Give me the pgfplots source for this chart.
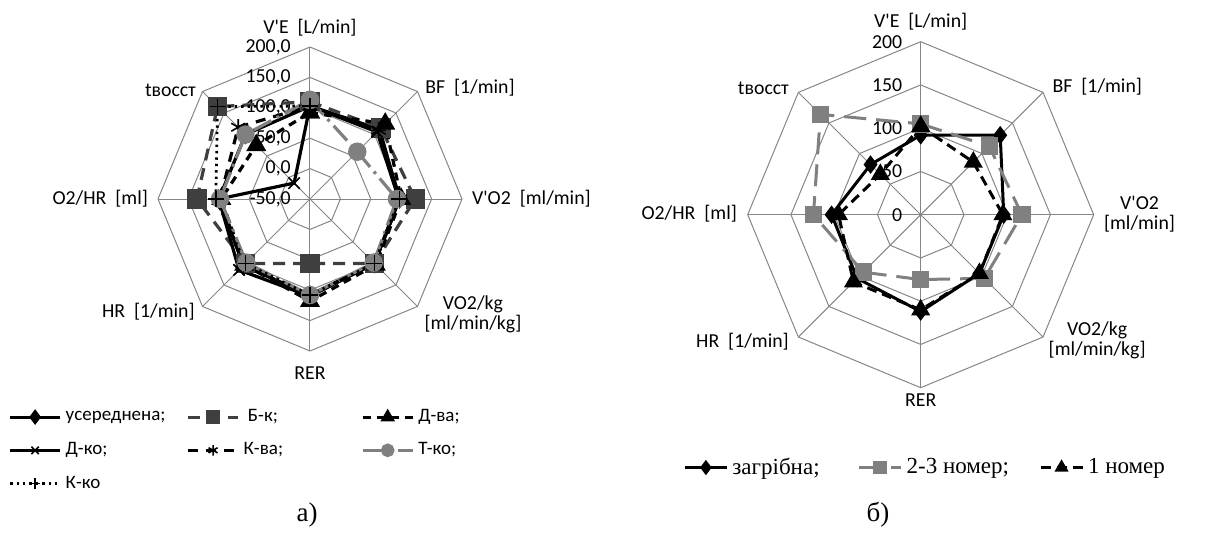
\documentclass[border=0pt]{standalone}
\usepackage{pgfplots}
\pgfplotsset{compat=1.18}
\usepackage{pgfplotstable}
\usepackage{fontspec}
\setmainfont{Carlito}
\newfontfamily\calfont{Carlito}
\newfontfamily\timesfont{Liberation Serif}
\definecolor{gridc}{HTML}{868686}
\definecolor{dkgray}{HTML}{3F3F3F}
\definecolor{mdgray}{HTML}{808080}
\newcommand\lblfont{\calfont\fontsize{9.9}{11}\selectfont}
\newcommand\tickfont{\calfont\fontsize{9.9}{11}\selectfont}

% columns: angle, then values
\pgfplotstableread{
ang avg bk dva dko kva tko kko
90 103 110 92 103 103 113 103
45 112 115 125 106 110 60 109
0 97 123 100 96 98 93 97
-45 100 100 103 100 100 98 100
-90 108 56 118 110 108 108 108
-135 105 100 103 115 105 98 100
-180 100 136 96 100 98 98 105
-225 100 165 75 -13 117 100 165
-270 103 110 92 103 103 113 103
}\lefttab

\pgfplotstableread{
ang zag sec fir
90 92 105 102
45 130 112 86
0 96 117 95
-45 96 104 96
-90 112 75 110
-135 104 94 110
-180 103 124 95
-225 82 164 66
-270 92 105 102
}\righttab

\pgfplotstableread{
ang one
90 1
45 1
0 1
-45 1
-90 1
-135 1
-180 1
-225 1
-270 1
}\octa

\begin{document}
\begin{tikzpicture}
\useasboundingbox (0,0) rectangle (603pt,276.5pt);

% ---------------- left chart ----------------
\begin{axis}[
  at={(155pt,177pt)}, anchor=center,
  x=0.304pt, y=0.304pt,
  xmin=-250, xmax=250, ymin=-250, ymax=250,
  hide axis, clip=false,
  legend columns=3,
  legend cell align=left,
  legend image code/.code={\draw[mark repeat=2,mark phase=2,#1,mark size=2.6pt] plot coordinates {(0pt,0pt)(12.5pt,0pt)(25pt,0pt)};},
  legend style={at={(-0.493,-0.178)}, anchor=north west, draw=none, fill=none, inner sep=0pt,
     font=\calfont\fontsize{9.5}{11}\selectfont, row sep=5pt,
     /tikz/column 2/.style={column sep=8.5pt},
     /tikz/column 4/.style={column sep=37pt}},
]
\pgfplotsinvokeforeach{50,100,150,200,250}{
  \addplot[gridc, line width=0.5pt, forget plot] table[x expr={#1*cos(\thisrow{ang})}, y expr={#1*sin(\thisrow{ang})}] {\octa};
}
\addplot[gridc, line width=0.5pt, forget plot] coordinates {(0,-250)(0,250)};
\addplot[gridc, line width=0.5pt, forget plot] coordinates {(-250,0)(250,0)};
\addplot[gridc, line width=0.5pt, forget plot] coordinates {(-176.78,-176.78)(176.78,176.78)};
\addplot[gridc, line width=0.5pt, forget plot] coordinates {(-176.78,176.78)(176.78,-176.78)};

\node[font=\tickfont, anchor=east, inner sep=0pt] at (axis cs:-31,250) {200,0};
\node[font=\tickfont, anchor=east, inner sep=0pt] at (axis cs:-31,200) {150,0};
\node[font=\tickfont, anchor=east, inner sep=0pt] at (axis cs:-31,150) {100,0};
\node[font=\tickfont, anchor=east, inner sep=0pt] at (axis cs:-31,100) {50,0};
\node[font=\tickfont, anchor=east, inner sep=0pt] at (axis cs:-31,50) {0,0};
\node[font=\tickfont, anchor=east, inner sep=0pt] at (axis cs:-31,0) {-50,0};

\node[font=\lblfont, inner sep=0pt] at (axis cs:0,281) {V'E\ \ [L/min]};
\node[font=\lblfont, anchor=west, inner sep=0pt] at (axis cs:189,183) {BF\ \ [1/min]};
\node[font=\lblfont, anchor=west, inner sep=0pt] at (axis cs:266,0) {V'O2\ \ [ml/min]};
\node[font=\lblfont, align=center, inner sep=0pt] at (axis cs:268,-189) {VO2/kg\\[-1pt][ml/min/kg]};
\node[font=\lblfont, inner sep=0pt] at (axis cs:0,-286) {RER};
\node[font=\lblfont, anchor=east, inner sep=0pt] at (axis cs:-189,-186) {HR\ \ [1/min]};
\node[font=\lblfont, anchor=east, inner sep=0pt] at (axis cs:-266,0) {O2/HR\ \ [ml]};
\node[font=\lblfont, anchor=east, inner sep=0pt] at (axis cs:-187,179) {tвосст};

\addplot[black, line width=1.6pt, mark=diamond*, mark size=3.6pt, mark options={solid}]
  table[x expr={(\thisrow{avg}+50)*cos(\thisrow{ang})}, y expr={(\thisrow{avg}+50)*sin(\thisrow{ang})}] {\lefttab};
\addlegendentry{усереднена;}
\addplot[dkgray, line width=1.6pt, dash pattern=on 6pt off 4pt, mark=square*, mark size=4pt, mark options={solid}]
  table[x expr={(\thisrow{bk}+50)*cos(\thisrow{ang})}, y expr={(\thisrow{bk}+50)*sin(\thisrow{ang})}] {\lefttab};
\addlegendentry{\ Б-к;}
\addplot[black, line width=1.6pt, dash pattern=on 4pt off 3pt, mark=triangle*, mark size=4.2pt, mark options={solid}]
  table[x expr={(\thisrow{dva}+50)*cos(\thisrow{ang})}, y expr={(\thisrow{dva}+50)*sin(\thisrow{ang})}] {\lefttab};
\addlegendentry{Д-ва;}
\addplot[black, line width=1.6pt, mark=x, mark size=4pt, mark options={solid, line width=0.8pt}]
  table[x expr={(\thisrow{dko}+50)*cos(\thisrow{ang})}, y expr={(\thisrow{dko}+50)*sin(\thisrow{ang})}] {\lefttab};
\addlegendentry{Д-ко;}
\addplot[black, line width=1.6pt, dash pattern=on 5pt off 4pt, mark=asterisk, mark size=4pt, mark options={solid, line width=0.8pt}]
  table[x expr={(\thisrow{kva}+50)*cos(\thisrow{ang})}, y expr={(\thisrow{kva}+50)*sin(\thisrow{ang})}] {\lefttab};
\addlegendentry{К-ва;}
\addplot[mdgray, line width=1.6pt, dash pattern=on 10pt off 3pt on 1.5pt off 3pt, mark=*, mark size=3.8pt, mark options={solid}]
  table[x expr={(\thisrow{tko}+50)*cos(\thisrow{ang})}, y expr={(\thisrow{tko}+50)*sin(\thisrow{ang})}] {\lefttab};
\addlegendentry{Т-ко;}
\addplot[black, line width=1.4pt, dash pattern=on 1.2pt off 2pt, mark=+, mark size=4pt, mark options={solid, line width=0.8pt}]
  table[x expr={(\thisrow{kko}+50)*cos(\thisrow{ang})}, y expr={(\thisrow{kko}+50)*sin(\thisrow{ang})}] {\lefttab};
\addlegendentry{К-ко}
\end{axis}

% ---------------- right chart ----------------
\begin{axis}[
  at={(460.35pt,169.15pt)}, anchor=center,
  x=0.4325pt, y=0.4325pt,
  xmin=-200, xmax=200, ymin=-200, ymax=200,
  hide axis, clip=false,
  legend columns=3,
  legend cell align=left,
  legend image code/.code={\draw[mark repeat=2,mark phase=2,#1,mark size=2.6pt] plot coordinates {(0pt,0pt)(10.5pt,0pt)(21pt,0pt)};},
  legend style={at={(-0.187,-0.19)}, anchor=north west, draw=none, fill=none, inner sep=0pt,
     font=\timesfont\fontsize{11.5}{13}\selectfont,
     /tikz/column 2/.style={column sep=17pt},
     /tikz/column 4/.style={column sep=13pt}},
]
\pgfplotsinvokeforeach{50,100,150,200}{
  \addplot[gridc, line width=0.5pt, forget plot] table[x expr={#1*cos(\thisrow{ang})}, y expr={#1*sin(\thisrow{ang})}] {\octa};
}
\addplot[gridc, line width=0.5pt, forget plot] coordinates {(0,-200)(0,200)};
\addplot[gridc, line width=0.5pt, forget plot] coordinates {(-200,0)(200,0)};
\addplot[gridc, line width=0.5pt, forget plot] coordinates {(-141.42,-141.42)(141.42,141.42)};
\addplot[gridc, line width=0.5pt, forget plot] coordinates {(-141.42,141.42)(141.42,-141.42)};

\node[font=\tickfont, anchor=east, inner sep=0pt] at (axis cs:-21,200) {200};
\node[font=\tickfont, anchor=east, inner sep=0pt] at (axis cs:-21,150) {150};
\node[font=\tickfont, anchor=east, inner sep=0pt] at (axis cs:-21,100) {100};
\node[font=\tickfont, anchor=east, inner sep=0pt] at (axis cs:-21,50) {50};
\node[font=\tickfont, anchor=east, inner sep=0pt] at (axis cs:-21,0) {0};

\node[font=\lblfont, inner sep=0pt] at (axis cs:0,223) {V'E\ \ [L/min]};
\node[font=\lblfont, anchor=west, inner sep=0pt] at (axis cs:152,148) {BF\ \ [1/min]};
\node[font=\lblfont, align=center, inner sep=0pt] at (axis cs:253,1) {V'O2\\[-1pt][ml/min]};
\node[font=\lblfont, align=center, inner sep=0pt] at (axis cs:204,-145) {VO2/kg\\[-1pt][ml/min/kg]};
\node[font=\lblfont, inner sep=0pt] at (axis cs:0,-214) {RER};
\node[font=\lblfont, anchor=east, inner sep=0pt] at (axis cs:-152,-147) {HR\ \ [1/min]};
\node[font=\lblfont, anchor=east, inner sep=0pt] at (axis cs:-212,1) {O2/HR\ \ [ml]};
\node[font=\lblfont, anchor=east, inner sep=0pt] at (axis cs:-152,146) {tвосст};

\addplot[black, line width=1.5pt, mark=diamond*, mark size=3.4pt, mark options={solid}]
  table[x expr={\thisrow{zag}*cos(\thisrow{ang})}, y expr={\thisrow{zag}*sin(\thisrow{ang})}] {\righttab};
\addlegendentry{загрібна;}
\addplot[mdgray, line width=1.5pt, dash pattern=on 11pt off 5pt, mark=square*, mark size=3.6pt, mark options={solid}]
  table[x expr={\thisrow{sec}*cos(\thisrow{ang})}, y expr={\thisrow{sec}*sin(\thisrow{ang})}] {\righttab};
\addlegendentry{2-3 номер;}
\addplot[black, line width=1.5pt, dash pattern=on 5pt off 3pt, mark=triangle*, mark size=4pt, mark options={solid}]
  table[x expr={\thisrow{fir}*cos(\thisrow{ang})}, y expr={\thisrow{fir}*sin(\thisrow{ang})}] {\righttab};
\addlegendentry{1 номер}
\end{axis}

\node[font=\timesfont\fontsize{13.5}{15}\selectfont] at (153.5pt,19pt) {а)};
\node[font=\timesfont\fontsize{13.5}{15}\selectfont] at (439pt,19pt) {б)};
\end{tikzpicture}
\end{document}
